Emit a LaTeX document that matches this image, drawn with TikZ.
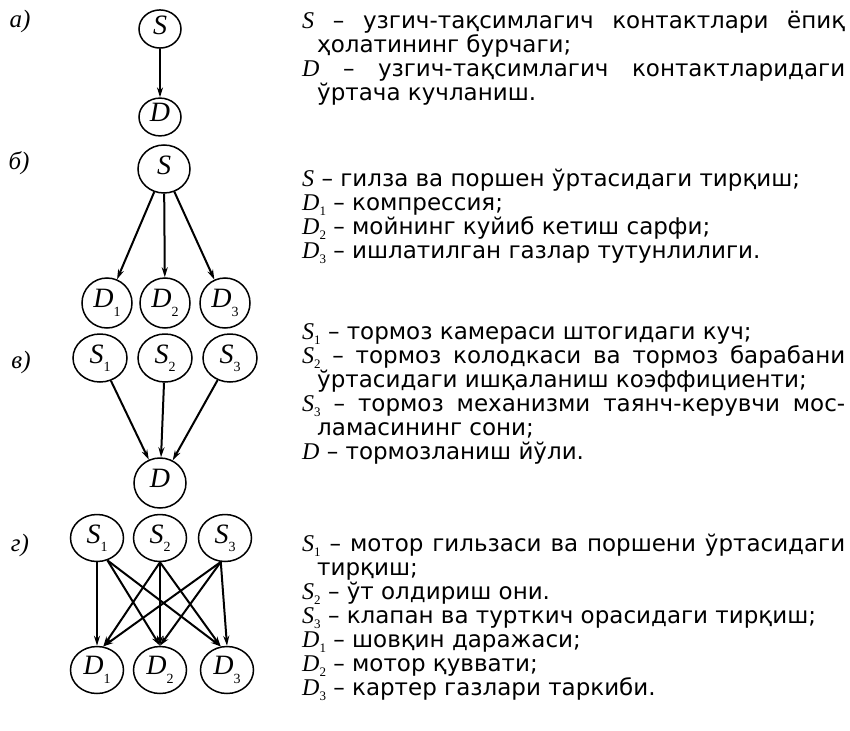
\documentclass[tikz,border=0pt]{standalone}
\usepackage{fontspec}
\setmainfont{DejaVu Sans}
\newfontfamily\tms{Liberation Serif}
\usetikzlibrary{shapes.geometric,arrows.meta}
\newcommand\circlab[2]{{\tms\itshape #1}\raisebox{-0.3em}{\tms\fontsize{14}{14}\selectfont #2}}
\newcommand\txtlab[2]{{\tms\itshape\fontsize{24}{24}\selectfont #1}\raisebox{-0.25em}{\tms\fontsize{13}{13}\selectfont #2}}
\begin{document}
\begin{tikzpicture}[x=1pt,y=-1pt,
  vtx/.style={ellipse,draw,line width=1.5pt,inner sep=0pt,font=\fontsize{28}{28}\selectfont},
  conn/.style={line width=2pt,-{Stealth[length=10pt,width=6pt]}},
  txt/.style={anchor=base west,inner sep=0pt,font=\fontsize{23}{24}\selectfont},
  tag/.style={inner sep=0pt,font=\tms\itshape\fontsize{25}{25}\selectfont}]
\useasboundingbox (0,0) rectangle (850,730);
% labels
\node[tag] (la) at (20,21) {а)};
\node[tag] (lb) at (19,163) {б)};
\node[tag] (lc) at (21,362) {в)};
\node[tag] (ld) at (20,545) {г)};
% a
\node[vtx,minimum width=42pt,minimum height=34pt] (a-S) at (160,29) {\circlab{S}{}};
\node[vtx,minimum width=42pt,minimum height=37pt] (a-D) at (160,117) {\circlab{D}{}};
\draw[conn] (a-S) -- (a-D);
% b
\node[vtx,minimum width=52pt,minimum height=48pt] (b-S) at (164,169) {\circlab{S}{}};
\node[vtx,minimum width=50pt,minimum height=50pt] (b-D1) at (107,303) {\circlab{D}{1}};
\node[vtx,minimum width=50pt,minimum height=50pt] (b-D2) at (165,303) {\circlab{D}{2}};
\node[vtx,minimum width=50pt,minimum height=50pt] (b-D3) at (225,303) {\circlab{D}{3}};
\draw[conn] (b-S) -- (b-D1);
\draw[conn] (b-S) -- (b-D2);
\draw[conn] (b-S) -- (b-D3);
% c
\node[vtx,minimum width=54pt,minimum height=48pt] (c-S1) at (100,358) {\circlab{S}{1}};
\node[vtx,minimum width=54pt,minimum height=48pt] (c-S2) at (165,358) {\circlab{S}{2}};
\node[vtx,minimum width=54pt,minimum height=48pt] (c-S3) at (230,358) {\circlab{S}{3}};
\node[vtx,minimum width=52pt,minimum height=50pt] (c-D) at (160,483) {\circlab{D}{}};
\draw[conn] (c-S1) -- (c-D);
\draw[conn] (c-S2) -- (c-D);
\draw[conn] (c-S3) -- (c-D);
% d
\node[vtx,minimum width=53pt,minimum height=47pt] (d-S1) at (97,538) {\circlab{S}{1}};
\node[vtx,minimum width=53pt,minimum height=47pt] (d-S2) at (160,538) {\circlab{S}{2}};
\node[vtx,minimum width=53pt,minimum height=47pt] (d-S3) at (225,538) {\circlab{S}{3}};
\node[vtx,minimum width=53pt,minimum height=47pt] (d-D1) at (97,670) {\circlab{D}{1}};
\node[vtx,minimum width=53pt,minimum height=47pt] (d-D2) at (160,670) {\circlab{D}{2}};
\node[vtx,minimum width=53pt,minimum height=47pt] (d-D3) at (227,670) {\circlab{D}{3}};
\draw[conn] (d-S1.south) -- (d-D1.north);
\draw[conn] (d-S1.-65) -- (d-D2.north);
\draw[conn] (d-S1.-65) -- (d-D3.105);
\draw[conn] (d-S2.south) -- (d-D1.75);
\draw[conn] (d-S2.south) -- (d-D2.north);
\draw[conn] (d-S2.south) -- (d-D3.105);
\draw[conn] (d-S3.-100) -- (d-D1.75);
\draw[conn] (d-S3.-100) -- (d-D2.north);
\draw[conn] (d-S3.-100) -- (d-D3.north);
% texts a
\node[txt] (ta1) at (302,29) {\makebox[543pt][s]{\txtlab{S}{} – узгич-тақсимлагич контактлари ёпиқ}};
\node[txt] (ta2) at (317,53) {ҳолатининг бурчаги;};
\node[txt] (ta3) at (302,77) {\makebox[543pt][s]{\txtlab{D}{} – узгич-тақсимлагич контактларидаги}};
\node[txt] (ta4) at (317,101) {ўртача кучланиш.};
% texts b
\node[txt] (tb1) at (302,186) {\txtlab{S}{} – гилза ва поршен ўртасидаги тирқиш;};
\node[txt] (tb2) at (302,210) {\txtlab{D}{1} – компрессия;};
\node[txt] (tb3) at (302,234) {\txtlab{D}{2} – мойнинг куйиб кетиш сарфи;};
\node[txt] (tb4) at (302,258) {\txtlab{D}{3} – ишлатилган газлар тутунлилиги.};
% texts c
\node[txt] (tc1) at (302,339) {\txtlab{S}{1} – тормоз камераси штогидаги куч;};
\node[txt] (tc2) at (302,363) {\makebox[543pt][s]{\txtlab{S}{2} – тормоз колодкаси ва тормоз барабани}};
\node[txt] (tc3) at (317,387) {ўртасидаги ишқаланиш коэффициенти;};
\node[txt] (tc4) at (302,411) {\makebox[543pt][s]{\txtlab{S}{3} – тормоз механизми таянч-керувчи мос-}};
\node[txt] (tc5) at (317,435) {ламасининг сони;};
\node[txt] (tc6) at (302,459) {\txtlab{D}{} – тормозланиш йўли.};
% texts d
\node[txt] (td1) at (302,551) {\makebox[543pt][s]{\txtlab{S}{1} – мотор гильзаси ва поршени ўртасидаги}};
\node[txt] (td2) at (317,575) {тирқиш;};
\node[txt] (td3) at (302,599) {\txtlab{S}{2} – ўт олдириш они.};
\node[txt] (td4) at (302,623) {\txtlab{S}{3} – клапан ва турткич орасидаги тирқиш;};
\node[txt] (td5) at (302,647) {\txtlab{D}{1} – шовқин даражаси;};
\node[txt] (td6) at (302,671) {\txtlab{D}{2} – мотор қуввати;};
\node[txt] (td7) at (302,695) {\txtlab{D}{3} – картер газлари таркиби.};
\end{tikzpicture}
\end{document}
